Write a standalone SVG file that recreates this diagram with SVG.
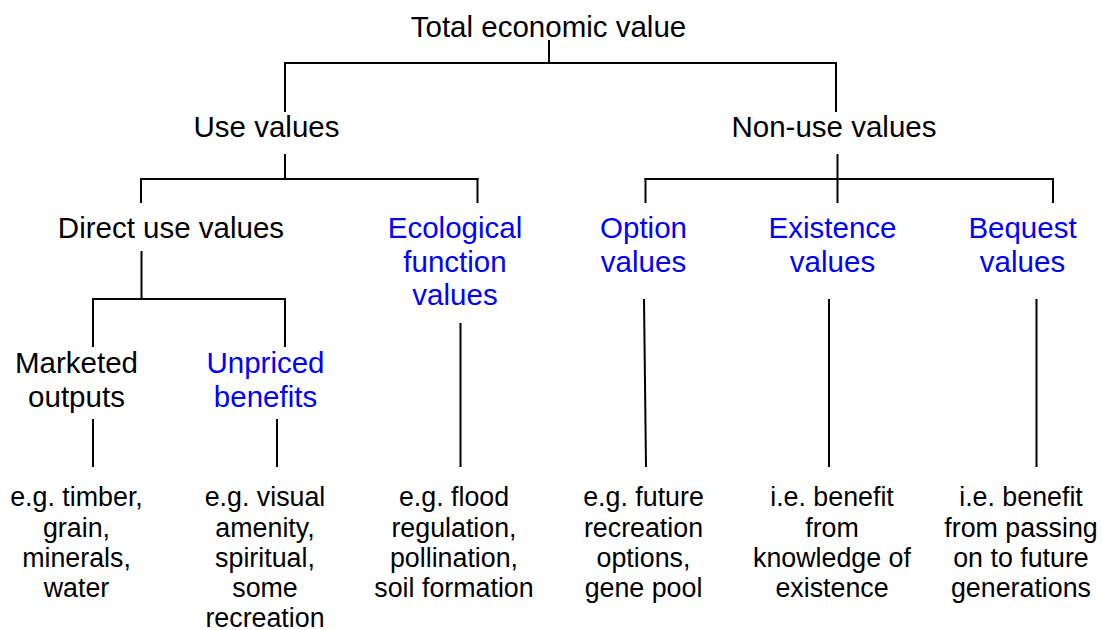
<svg xmlns="http://www.w3.org/2000/svg" width="1102" height="630" viewBox="0 0 1102 630">
<style>
text{font-family:"Liberation Sans",Arial,sans-serif;text-anchor:middle;fill:#000}
.h{font-size:29.5px}
.s{font-size:26.8px}
.b{fill:#0000ff}
#connectors line{stroke:#000;stroke-width:2;fill:none}
</style>
<rect width="1102" height="630" fill="#fff"/>
<g id="connectors">
<line x1="549" y1="40" x2="549" y2="63"/>
<line x1="284" y1="63" x2="837" y2="63"/>
<line x1="285" y1="62" x2="285" y2="112"/>
<line x1="836" y1="62" x2="836" y2="112"/>
<line x1="285" y1="154" x2="285" y2="179"/>
<line x1="140" y1="179" x2="478.5" y2="179"/>
<line x1="141" y1="178" x2="141" y2="203"/>
<line x1="477.5" y1="178" x2="477.5" y2="203"/>
<line x1="837.5" y1="154" x2="837.5" y2="203"/>
<line x1="644.5" y1="179" x2="1054" y2="179"/>
<line x1="645.5" y1="178" x2="645.5" y2="203"/>
<line x1="1053" y1="178" x2="1053" y2="203"/>
<line x1="141.5" y1="251" x2="141.5" y2="299"/>
<line x1="92" y1="299" x2="286" y2="299"/>
<line x1="93" y1="298" x2="93" y2="347"/>
<line x1="285" y1="298" x2="285" y2="347"/>
<line x1="93" y1="419" x2="93" y2="467"/>
<line x1="277" y1="419" x2="277" y2="467"/>
<line x1="460.5" y1="323" x2="460.5" y2="467"/>
<line x1="644" y1="299" x2="646" y2="467"/>
<line x1="829" y1="299" x2="829" y2="467"/>
<line x1="1036.5" y1="299" x2="1036.5" y2="467"/>
</g>
<g id="total"><text class="h" x="548.5" y="37">Total economic value</text></g>
<g id="use"><text class="h" x="266.5" y="137">Use values</text></g>
<g id="nonuse"><text class="h" x="834" y="137">Non-use values</text></g>
<g id="direct"><text class="h" x="171" y="238">Direct use values</text></g>
<g id="ecological"><text class="h b" x="455" y="238">Ecological</text><text class="h b" x="455" y="272">function</text><text class="h b" x="455" y="305">values</text></g>
<g id="option"><text class="h b" x="643.5" y="238">Option</text><text class="h b" x="643.5" y="272">values</text></g>
<g id="existence"><text class="h b" x="832.5" y="238">Existence</text><text class="h b" x="832.5" y="272">values</text></g>
<g id="bequest"><text class="h b" x="1022.5" y="238">Bequest</text><text class="h b" x="1022.5" y="272">values</text></g>
<g id="marketed"><text class="h" x="76.5" y="373">Marketed</text><text class="h" x="76.5" y="407">outputs</text></g>
<g id="unpriced"><text class="h b" x="265.5" y="373">Unpriced</text><text class="h b" x="265.5" y="407">benefits</text></g>
<g id="ex-marketed"><text class="s" x="76.5" y="506">e.g. timber,</text><text class="s" x="76.5" y="536.5">grain,</text><text class="s" x="76.5" y="566.5">minerals,</text><text class="s" x="76.5" y="596.5">water</text></g>
<g id="ex-unpriced"><text class="s" x="265" y="506">e.g. visual</text><text class="s" x="265" y="536.5">amenity,</text><text class="s" x="265" y="566.5">spiritual,</text><text class="s" x="265" y="596.5">some</text><text class="s" x="265" y="626.5">recreation</text></g>
<g id="ex-ecological"><text class="s" x="454" y="506">e.g. flood</text><text class="s" x="454" y="536.5">regulation,</text><text class="s" x="454" y="566.5">pollination,</text><text class="s" x="454" y="596.5">soil formation</text></g>
<g id="ex-option"><text class="s" x="643.5" y="506">e.g. future</text><text class="s" x="643.5" y="536.5">recreation</text><text class="s" x="643.5" y="566.5">options,</text><text class="s" x="643.5" y="596.5">gene pool</text></g>
<g id="ex-existence"><text class="s" x="832" y="506">i.e. benefit</text><text class="s" x="832" y="536.5">from</text><text class="s" x="832" y="566.5">knowledge of</text><text class="s" x="832" y="596.5">existence</text></g>
<g id="ex-bequest"><text class="s" x="1021" y="506">i.e. benefit</text><text class="s" x="1021" y="536.5">from passing</text><text class="s" x="1021" y="566.5">on to future</text><text class="s" x="1021" y="596.5">generations</text></g>
</svg>
